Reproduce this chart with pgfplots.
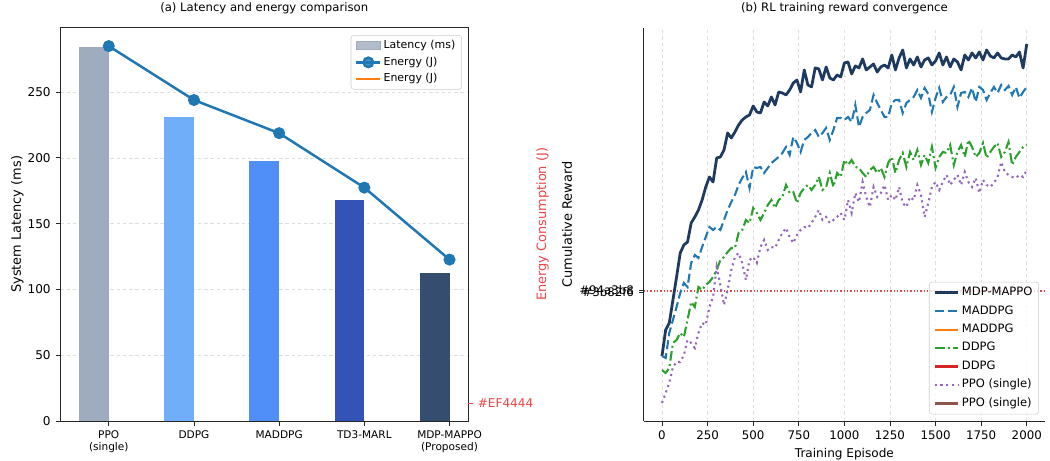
\documentclass[border=0pt]{standalone}
\usepackage{fontspec}
\setmainfont{DejaVu Sans}
\usepackage{pgfplots}
\usepackage{pgfplotstable}
\pgfplotsset{compat=1.18}

\definecolor{barA}{RGB}{159,172,191}
\definecolor{barB}{RGB}{112,174,250}
\definecolor{barC}{RGB}{79,143,247}
\definecolor{barD}{RGB}{52,83,183}
\definecolor{barE}{RGB}{53,78,111}
\definecolor{cZero}{HTML}{1F77B4}
\definecolor{cOrange}{HTML}{FF7F0E}
\definecolor{cRed}{HTML}{D62728}
\definecolor{cBrown}{HTML}{8C564B}
\definecolor{cGreen}{HTML}{2CA02C}
\definecolor{cPurple}{HTML}{9467BD}
\definecolor{navy}{HTML}{1E3A5F}
\definecolor{tred}{HTML}{EF4444}
\definecolor{gridc}{RGB}{222,222,222}

\pgfplotstableread{
ep mdp maddpg ddpg ppo
0 65 65 51 18
20 91 63 48 28
40 98 88 53 38
60 121 101 78 54
80 144 114 81 59
100 168 128 88 59
120 176 138 84 66
140 179 134 101 81
160 198 158 119 78
180 204 166 114 73
200 211 163 134 88
220 221 174 131 98
240 234 184 136 96
260 244 194 139 114
280 239 191 144 124
300 263 194 151 154
320 264 191 161 136
340 271 201 164 116
360 288 211 169 131
380 283 219 173 151
400 289 226 173 164
420 296 236 188 168
440 301 243 191 158
460 304 249 201 141
480 306 233 198 161
500 315 254 213 164
520 309 253 208 158
540 308 254 201 174
560 319 248 208 181
580 315 253 216 171
600 324 258 221 174
620 316 261 213 173
640 329 264 221 181
660 328 268 224 188
680 326 274 236 193
700 331 266 228 184
720 338 284 229 178
740 341 278 218 186
760 329 269 228 191
780 351 281 233 194
800 336 284 236 193
820 334 288 231 198
840 353 291 236 204
860 352 284 244 211
880 341 288 231 201
900 354 293 234 204
920 343 281 248 198
940 341 291 234 201
960 346 303 248 204
980 344 303 244 208
1000 358 301 261 201
1020 359 304 256 221
1040 347 299 261 208
1060 355 316 254 228
1080 353 294 253 219
1100 362 304 248 239
1120 351 308 244 224
1140 354 311 251 214
1160 357 326 254 234
1180 349 318 248 224
1200 354 311 253 228
1220 356 304 244 236
1240 353 304 258 221
1260 366 318 264 226
1280 351 321 248 221
1300 363 321 261 234
1320 371 308 268 218
1340 353 318 254 214
1360 362 321 269 224
1380 356 324 261 221
1400 364 331 271 236
1420 354 323 256 226
1440 361 333 266 204
1460 363 327 258 218
1480 356 309 274 234
1500 360 323 253 239
1520 368 333 264 231
1540 356 319 269 239
1560 364 324 268 246
1580 354 326 276 236
1600 362 334 256 241
1620 359 314 269 246
1640 351 328 276 236
1660 366 329 264 249
1680 361 324 281 239
1700 368 333 274 234
1720 363 319 264 243
1740 369 334 268 228
1760 361 331 278 241
1780 371 321 263 236
1800 365 328 269 234
1820 363 334 274 238
1840 368 328 278 244
1860 363 336 264 259
1880 362 331 269 249
1900 362 335 279 246
1920 366 326 256 244
1940 364 334 264 243
1960 369 323 269 246
1980 353 329 274 244
2000 377 334 276 251
}\rewards

\pgfplotstableread{
idx latency energy
0 284 285
1 231.4 244
2 198 218.8
3 167.8 177.4
4 112.3 122.7
}\latency

\begin{document}
\begin{tikzpicture}
\useasboundingbox (0,0) rectangle (756pt,331.92pt);

% ---------------- (a) left panel ----------------
\begin{axis}[
  at={(43.5pt,28.8pt)}, anchor=south west, scale only axis,
  width=293.5pt, height=283.2pt,
  xmin=-0.5675, xmax=4.2175, ymin=0, ymax=299,
  xtick={0,1,2,3,4},
  xticklabels={{PPO\\(single)},DDPG,MADDPG,TD3-MARL,{MDP-MAPPO\\(Proposed)}},
  xticklabel style={align=center, font=\fontsize{7.6}{8.6}\selectfont},
  ytick={0,50,100,150,200,250},
  yticklabel style={font=\fontsize{8.7}{10}\selectfont},
  /pgf/number format/assume math mode=true,
  tick align=outside, xtick pos=bottom, ytick pos=left, major tick length=3.5pt,
  tick style={black!85, line width=0.6pt},
  axis line style={black!85, line width=0.6pt},
  ymajorgrids, grid style={gridc, dash pattern=on 2.5pt off 2pt, line width=0.5pt},
  ylabel={System Latency (ms)},
  ylabel style={at={(axis description cs:-0.106,0.5)}, anchor=center, font=\fontsize{9.3}{11}\selectfont},
  title={(a) Latency and energy comparison},
  title style={at={(axis description cs:0.5,1.021)}, anchor=base, font=\fontsize{8.4}{10}\selectfont},
  legend style={at={(0.985,0.981)}, anchor=north east, draw=black!20, rounded corners=2pt,
    fill=white, fill opacity=0.8, text opacity=1, font=\fontsize{7.9}{9}\selectfont,
    nodes={inner sep=1.5pt, text height=5.9pt, text depth=1.9pt}, row sep=1.2pt},
  legend cell align=left,
]
\addplot[ybar, bar width=0.35, bar shift=-0.175, fill=barA, draw=none, forget plot] coordinates {(0,284)};
\addplot[ybar, bar width=0.35, bar shift=-0.175, fill=barB, draw=none, forget plot] coordinates {(1,231.4)};
\addplot[ybar, bar width=0.35, bar shift=-0.175, fill=barC, draw=none, forget plot] coordinates {(2,198)};
\addplot[ybar, bar width=0.35, bar shift=-0.175, fill=barD, draw=none, forget plot] coordinates {(3,167.8)};
\addplot[ybar, bar width=0.35, bar shift=-0.175, fill=barE, draw=none, forget plot] coordinates {(4,112.3)};
\addlegendimage{area legend, fill=barA, draw=barA, sharp corners}
\addlegendentry{Latency (ms)}
\addplot[cZero, line width=1.8pt, mark=*, mark size=3.4pt, mark options={solid}] table[x=idx, y=energy] {\latency};
\addlegendentry{Energy (J)}
\addlegendimage{legend image code/.code={\draw[cOrange, line width=1.9pt, sharp corners] (0cm,0cm) -- (0.6cm,0cm);}}
\addlegendentry{Energy (J)}
\end{axis}

% twin axis of (a)
\begin{axis}[
  at={(43.5pt,28.8pt)}, anchor=south west, scale only axis,
  width=293.5pt, height=283.2pt,
  xmin=-0.5675, xmax=4.2175, ymin=0, ymax=299,
  axis x line=none, axis y line*=right, y axis line style={draw=none},
  ytick={13.7}, yticklabels={\#EF4444},
  yticklabel style={tred, font=\fontsize{8.7}{10}\selectfont},
  tick align=outside, major tick length=3.5pt, ytick style={tred, line width=0.6pt},
  ylabel={Energy Consumption (J)},
  ylabel style={at={(axis description cs:1.183,0.5)}, anchor=center, rotate=0, tred, font=\fontsize{9.3}{11}\selectfont},
]
\addplot[draw=none, forget plot] coordinates {(0,0)};
\end{axis}

% ---------------- (b) right panel ----------------
\begin{axis}[
  at={(463.5pt,28.8pt)}, anchor=south west, scale only axis,
  width=288.9pt, height=283.2pt,
  xmin=-100, xmax=2100, ymin=0, ymax=393.3,
  axis x line*=bottom, axis y line*=left,
  axis line style={-, black!85, line width=0.6pt},
  tick align=outside, major tick length=3.5pt,
  tick style={black!85, line width=0.6pt},
  xtick={0,250,500,750,1000,1250,1500,1750,2000},
  scaled x ticks=false, /pgf/number format/1000 sep={},
  /pgf/number format/assume math mode=true,
  ytick={131}, yticklabels={\#94a3b8},
  extra y ticks={129}, extra y tick labels={\#3b82f6},
  extra y tick style={grid=none},
  ticklabel style={font=\fontsize{8.5}{10}\selectfont},
  xmajorgrids, grid style={gridc, dash pattern=on 2.5pt off 2pt, line width=0.5pt},
  xlabel={Training Episode},
  xlabel style={at={(axis description cs:0.5,-0.093)}, anchor=base, font=\fontsize{8.7}{10}\selectfont},
  ylabel={Cumulative Reward},
  ylabel style={at={(axis description cs:-0.191,0.5)}, anchor=center, font=\fontsize{9.3}{11}\selectfont},
  title={(b) RL training reward convergence},
  title style={at={(axis description cs:0.5,1.021)}, anchor=base, font=\fontsize{8.4}{10}\selectfont},
  legend style={at={(0.985,0.017)}, anchor=south east, draw=black!20, rounded corners=2pt,
    fill=white, fill opacity=0.8, text opacity=1, font=\fontsize{8.3}{10}\selectfont,
    nodes={inner sep=1.5pt, text height=6.2pt, text depth=2pt}, row sep=2.1pt},
  legend cell align=left,
]
\addplot[tred, line width=0.8pt, dash pattern=on 0.8pt off 1.6pt, forget plot] coordinates {(-100,130) (2100,130)};
\addplot[navy, line width=2pt, line join=round] table[x=ep, y=mdp] {\rewards};
\addlegendentry{MDP-MAPPO}
\addplot[cZero, line width=1.5pt, dash pattern=on 6.5pt off 2.9pt] table[x=ep, y=maddpg] {\rewards};
\addlegendentry{MADDPG}
\addlegendimage{line legend, cOrange, line width=1.5pt}
\addlegendentry{MADDPG}
\addplot[cGreen, line width=1.5pt, dash pattern=on 7pt off 2.4pt on 1.4pt off 2.4pt] table[x=ep, y=ddpg] {\rewards};
\addlegendentry{DDPG}
\addlegendimage{line legend, cRed, line width=1.5pt}
\addlegendentry{DDPG}
\addplot[cPurple, line width=1.5pt, dash pattern=on 1.5pt off 2.6pt] table[x=ep, y=ppo] {\rewards};
\addlegendentry{PPO (single)}
\addlegendimage{line legend, cBrown, line width=1.5pt}
\addlegendentry{PPO (single)}
\end{axis}
\end{tikzpicture}
\end{document}
